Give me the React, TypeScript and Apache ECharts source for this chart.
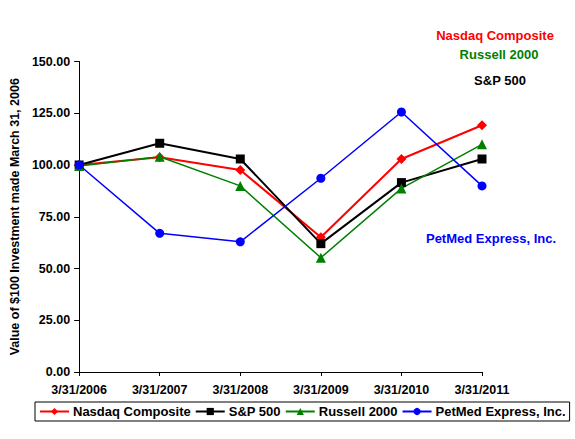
import React, { useEffect, useRef } from "react";
import * as echarts from "echarts";

const categories = ["3/31/2006", "3/31/2007", "3/31/2008", "3/31/2009", "3/31/2010", "3/31/2011"];
const nasdaq = [100, 103.7, 97.6, 65.1, 102.9, 119.2];
const sp500 = [100, 110.5, 102.9, 62.0, 91.5, 102.9];
const russell = [99.5, 104.0, 89.9, 55.2, 88.7, 110.0];
const petmed = [100, 67.0, 62.9, 93.6, 125.6, 89.9];
const yTicks = { min: 0, max: 150, interval: 25 };

const FONT = "'Liberation Sans', Arial, sans-serif";
const FS = 13;

export default function App() {
  const ref = useRef<HTMLDivElement>(null);
  useEffect(() => {
    if (!ref.current) return;
    const chart = echarts.init(ref.current, null, { renderer: "svg" });
    const mk = (name: string, data: number[], color: string, symbol: string, size: number, width: number) => ({
      name,
      type: "line",
      data,
      symbol,
      symbolSize: size,
      showAllSymbol: true,
      lineStyle: { color, width },
      itemStyle: { color },
    });
    const label = (text: string, x: number, y: number, fill: string) => ({
      type: "text",
      x,
      y,
      style: { text, fill, font: `bold ${FS}px ${FONT}`, textAlign: "center", textVerticalAlign: "middle" },
    });
    chart.setOption({
      animation: false,
      backgroundColor: "#ffffff",
      textStyle: { fontFamily: FONT },
      grid: { left: 76, right: 93, top: 61.5, bottom: 67 },
      xAxis: {
        type: "category",
        data: categories,
        boundaryGap: false,
        axisLine: { lineStyle: { color: "#000", width: 1 } },
        axisTick: { show: true, length: 4, lineStyle: { color: "#000" }, alignWithLabel: true },
        axisLabel: { color: "#000", fontWeight: "bold", fontSize: 12.5, fontFamily: FONT, margin: 11, interval: 0 },
        splitLine: { show: false },
      },
      yAxis: {
        type: "value",
        min: yTicks.min,
        max: yTicks.max,
        interval: yTicks.interval,
        name: "Value of $100 Investment made March 31, 2006",
        nameLocation: "middle",
        nameRotate: 90,
        nameGap: 53,
        nameTextStyle: { color: "#000", fontWeight: "bold", fontSize: 12.5, fontFamily: FONT },
        axisLine: { show: true, lineStyle: { color: "#000", width: 1 } },
        axisTick: { show: true, length: 5, lineStyle: { color: "#000" } },
        axisLabel: {
          color: "#000",
          fontWeight: "bold",
          fontSize: 12.5,
          fontFamily: FONT,
          margin: 9,
          formatter: (v: number) => v.toFixed(2),
        },
        splitLine: { show: false },
      },
      legend: {
        left: 35,
        top: 402,
        width: 560,
        orient: "horizontal",
        borderColor: "#000",
        borderWidth: 1,
        borderRadius: 0,
        padding: [3, 4, 3, 4],
        itemGap: 4,
        itemWidth: 29,
        itemHeight: 9,
        textStyle: { color: "#000", fontWeight: "bold", fontSize: FS, fontFamily: FONT, padding: [0, 0, 0, -1] },
        data: ["Nasdaq Composite", "S&P 500", "Russell 2000", "PetMed Express, Inc."],
      },
      graphic: [
        label("Nasdaq Composite", 495, 35, "#ff0000"),
        label("Russell 2000", 499, 54, "#008000"),
        label("S&P 500", 500, 80, "#000000"),
        label("PetMed Express, Inc.", 491, 238, "#0000ff"),
      ],
      series: [
        mk("Nasdaq Composite", nasdaq, "#ff0000", "diamond", 10, 2),
        mk("S&P 500", sp500, "#000000", "rect", 9, 2),
        mk("Russell 2000", russell, "#008000", "triangle", 10, 1.5),
        mk("PetMed Express, Inc.", petmed, "#0000ff", "circle", 9, 1.5),
      ],
    });
    return () => chart.dispose();
  }, []);
  return <div ref={ref} style={{ position: "fixed", left: 0, top: 0, width: 575, height: 439 }} />;
}
